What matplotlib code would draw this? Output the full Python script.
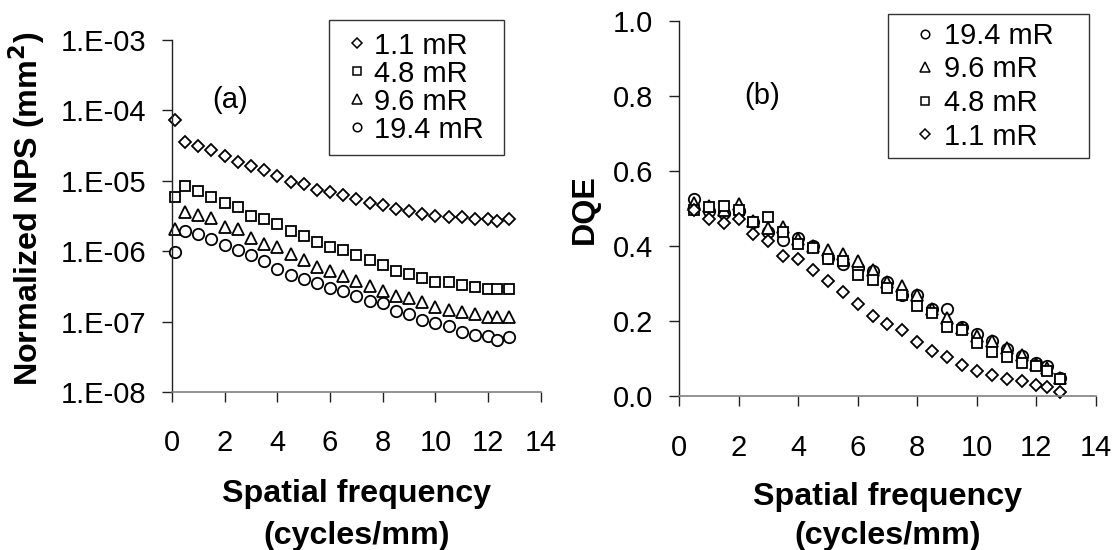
import numpy as np
import matplotlib
matplotlib.use("Agg")
import matplotlib.pyplot as plt
from matplotlib.ticker import FixedLocator, FuncFormatter, NullLocator

plt.rcParams['font.family'] = ['Liberation Sans', 'DejaVu Sans']

# ---------------- data ----------------
freq_nps = [0.1, 0.5, 1.0, 1.5, 2.0, 2.5, 3.0, 3.5, 4.0, 4.5, 5.0, 5.5, 6.0, 6.5,
            7.0, 7.5, 8.0, 8.5, 9.0, 9.5, 10.0, 10.5, 11.0, 11.5, 12.0, 12.35, 12.8]
nps_1_1 = [7.4e-5, 3.58e-5, 3.08e-5, 2.74e-5, 2.24e-5, 1.86e-5, 1.61e-5, 1.44e-5, 1.17e-5,
           9.5e-6, 8.98e-6, 7.36e-6, 6.86e-6, 6.31e-6, 5.55e-6, 4.88e-6, 4.55e-6, 3.95e-6,
           3.68e-6, 3.40e-6, 3.20e-6, 3.05e-6, 3.02e-6, 2.88e-6, 2.88e-6, 2.72e-6, 2.88e-6]
nps_4_8 = [5.96e-6, 8.47e-6, 7.10e-6, 5.96e-6, 4.88e-6, 4.19e-6, 3.20e-6, 2.88e-6, 2.47e-6,
           1.95e-6, 1.64e-6, 1.34e-6, 1.15e-6, 1.03e-6, 8.9e-7, 7.39e-7, 6.42e-7, 5.26e-7,
           4.79e-7, 4.11e-7, 3.70e-7, 3.70e-7, 3.29e-7, 3.10e-7, 2.89e-7, 2.89e-7, 2.89e-7]
nps_9_6 = [2.07e-6, 3.64e-6, 3.31e-6, 2.94e-6, 2.20e-6, 2.07e-6, 1.55e-6, 1.27e-6, 1.13e-6,
           9.12e-7, 7.39e-7, 6.05e-7, 5.20e-7, 4.41e-7, 3.79e-7, 3.25e-7, 2.76e-7, 2.32e-7,
           2.18e-7, 1.87e-7, 1.63e-7, 1.45e-7, 1.37e-7, 1.29e-7, 1.17e-7, 1.17e-7, 1.17e-7]
nps_19_4 = [9.68e-7, 1.95e-6, 1.74e-6, 1.51e-6, 1.22e-6, 1.03e-6, 8.9e-7, 7.22e-7, 5.52e-7,
            4.63e-7, 4.02e-7, 3.57e-7, 3.00e-7, 2.76e-7, 2.32e-7, 1.99e-7, 1.81e-7, 1.40e-7,
            1.27e-7, 1.07e-7, 9.6e-8, 8.55e-8, 7.08e-8, 6.45e-8, 6.16e-8, 5.47e-8, 6.01e-8]

freq_dqe = [0.5, 1.0, 1.5, 2.0, 2.5, 3.0, 3.5, 4.0, 4.5, 5.0, 5.5, 6.0, 6.5,
            7.0, 7.5, 8.0, 8.5, 9.0, 9.5, 10.0, 10.5, 11.0, 11.5, 12.0, 12.35, 12.8]
dqe_19_4 = [0.526, 0.495, 0.488, 0.493, 0.465, 0.438, 0.417, 0.421, 0.400, 0.370, 0.354,
            0.341, 0.333, 0.305, 0.271, 0.269, 0.233, 0.233, 0.186, 0.167, 0.148, 0.126,
            0.107, 0.090, 0.081, 0.050]
dqe_9_6 = [0.516, 0.507, 0.497, 0.514, 0.467, 0.448, 0.452, 0.419, 0.402, 0.390, 0.379,
           0.362, 0.338, 0.305, 0.295, 0.269, 0.233, 0.210, 0.183, 0.160, 0.148, 0.129,
           0.110, 0.086, 0.076, 0.050]
dqe_4_8 = [0.497, 0.505, 0.507, 0.497, 0.465, 0.478, 0.438, 0.405, 0.395, 0.367, 0.362,
           0.324, 0.310, 0.288, 0.271, 0.240, 0.221, 0.186, 0.176, 0.141, 0.119, 0.105,
           0.090, 0.081, 0.069, 0.046]
dqe_1_1 = [0.497, 0.474, 0.462, 0.474, 0.433, 0.414, 0.373, 0.365, 0.338, 0.307, 0.278,
           0.246, 0.214, 0.193, 0.176, 0.145, 0.121, 0.105, 0.084, 0.067, 0.057, 0.046,
           0.040, 0.030, 0.024, 0.012]

labels = ['1.1 mR', '4.8 mR', '9.6 mR', '19.4 mR']
x_ticks = [0, 2, 4, 6, 8, 10, 12, 14]
nps_ticks = [1e-8, 1e-7, 1e-6, 1e-5, 1e-4, 1e-3]
dqe_ticks = [0.0, 0.2, 0.4, 0.6, 0.8, 1.0]

# ---------------- style ----------------
FS = 21
FSL = 23.2
mstyle = {
    '1.1 mR': dict(marker='D', ms=6.5),
    '4.8 mR': dict(marker='s', ms=7.8),
    '9.6 mR': dict(marker='^', ms=8.8),
    '19.4 mR': dict(marker='o', ms=8.2),
}

fig = plt.figure(figsize=(11.18, 5.5), dpi=100)
axA = fig.add_axes([0.1538, 0.2873, 0.330, 0.640])
axB = fig.add_axes([0.6073, 0.2793, 0.373, 0.682])


def style_axes(ax):
    ax.spines['top'].set_visible(False)
    ax.spines['right'].set_visible(False)
    ax.spines['left'].set_color('#202020')
    ax.spines['bottom'].set_color('#808080')
    ax.spines['left'].set_linewidth(1.0)
    ax.spines['bottom'].set_linewidth(1.2)
    ax.tick_params(axis='both', which='major', direction='out', length=7, width=1.0,
                   color='#202020', labelsize=FS)
    ax.tick_params(axis='x', pad=20)
    ax.tick_params(axis='y', pad=11.5)
    ax.set_xlim(0, 14)
    ax.xaxis.set_major_locator(FixedLocator(x_ticks))


def plot_series(ax, x, y, lab):
    ax.plot(x, y, linestyle='none', mfc='white', mec='black', mew=1.3,
            label=lab, clip_on=False, **mstyle[lab])


def make_legend(ax, bbox, bp, hl, htp, ls):
    leg = ax.legend(loc='upper left', bbox_to_anchor=bbox, mode='expand',
                    bbox_transform=fig.transFigure, fontsize=FS, markerscale=0.75,
                    handlelength=hl, handletextpad=htp, labelspacing=ls,
                    borderpad=bp, borderaxespad=0, frameon=True, fancybox=False)
    leg.get_frame().set_edgecolor('black')
    leg.get_frame().set_linewidth(1.0)
    for h in leg.legend_handles:
        h.set_markeredgewidth(1.1)
    return leg


# ---- panel (a)
style_axes(axA)
plot_series(axA, freq_nps, nps_1_1, '1.1 mR')
plot_series(axA, freq_nps, nps_4_8, '4.8 mR')
plot_series(axA, freq_nps, nps_9_6, '9.6 mR')
plot_series(axA, freq_nps, nps_19_4, '19.4 mR')
axA.set_yscale('log')
axA.set_ylim(1e-8, 1e-3)
axA.yaxis.set_major_locator(FixedLocator(nps_ticks))
axA.yaxis.set_minor_locator(NullLocator())
axA.yaxis.set_major_formatter(FuncFormatter(lambda v, p: "1.E%+03d" % int(round(np.log10(v)))))
axA.set_ylabel('Normalized NPS (mm$^\\mathbf{2}$)', fontsize=FSL, fontweight='bold')
axA.yaxis.set_label_coords(-0.336, 0.521)
axA.set_xlabel('Spatial frequency\n(cycles/mm)', fontsize=FSL, fontweight='bold',
               linespacing=1.53)
axA.xaxis.set_label_coords(0.5, -0.248)
axA.text(0.157, 0.83, '(a)', transform=axA.transAxes, fontsize=FS, ha='center', va='center')
make_legend(axA, (0.2943, 0.8636, 0.1565, 0.1), bp=0.4, hl=1.13, htp=0.0, ls=0.0)

# ---- panel (b)
style_axes(axB)
plot_series(axB, freq_dqe, dqe_19_4, '19.4 mR')
plot_series(axB, freq_dqe, dqe_9_6, '9.6 mR')
plot_series(axB, freq_dqe, dqe_4_8, '4.8 mR')
plot_series(axB, freq_dqe, dqe_1_1, '1.1 mR')
axB.set_ylim(0, 1.0)
axB.yaxis.set_major_locator(FixedLocator(dqe_ticks))
axB.yaxis.set_major_formatter(FuncFormatter(lambda v, p: "%.1f" % v))
axB.set_ylabel('DQE', fontsize=FSL, fontweight='bold')
axB.yaxis.set_label_coords(-0.189, 0.50)
axB.set_xlabel('Spatial frequency\n(cycles/mm)', fontsize=FSL, fontweight='bold',
               linespacing=1.38)
axB.xaxis.set_label_coords(0.5, -0.229)
axB.text(0.199, 0.80, '(b)', transform=axB.transAxes, fontsize=FS, ha='center', va='center')
make_legend(axB, (0.7943, 0.8745, 0.1798, 0.1), bp=0.27, hl=2.0, htp=-0.35, ls=0.19)

fig.savefig('out.png', dpi=100, facecolor='white')
